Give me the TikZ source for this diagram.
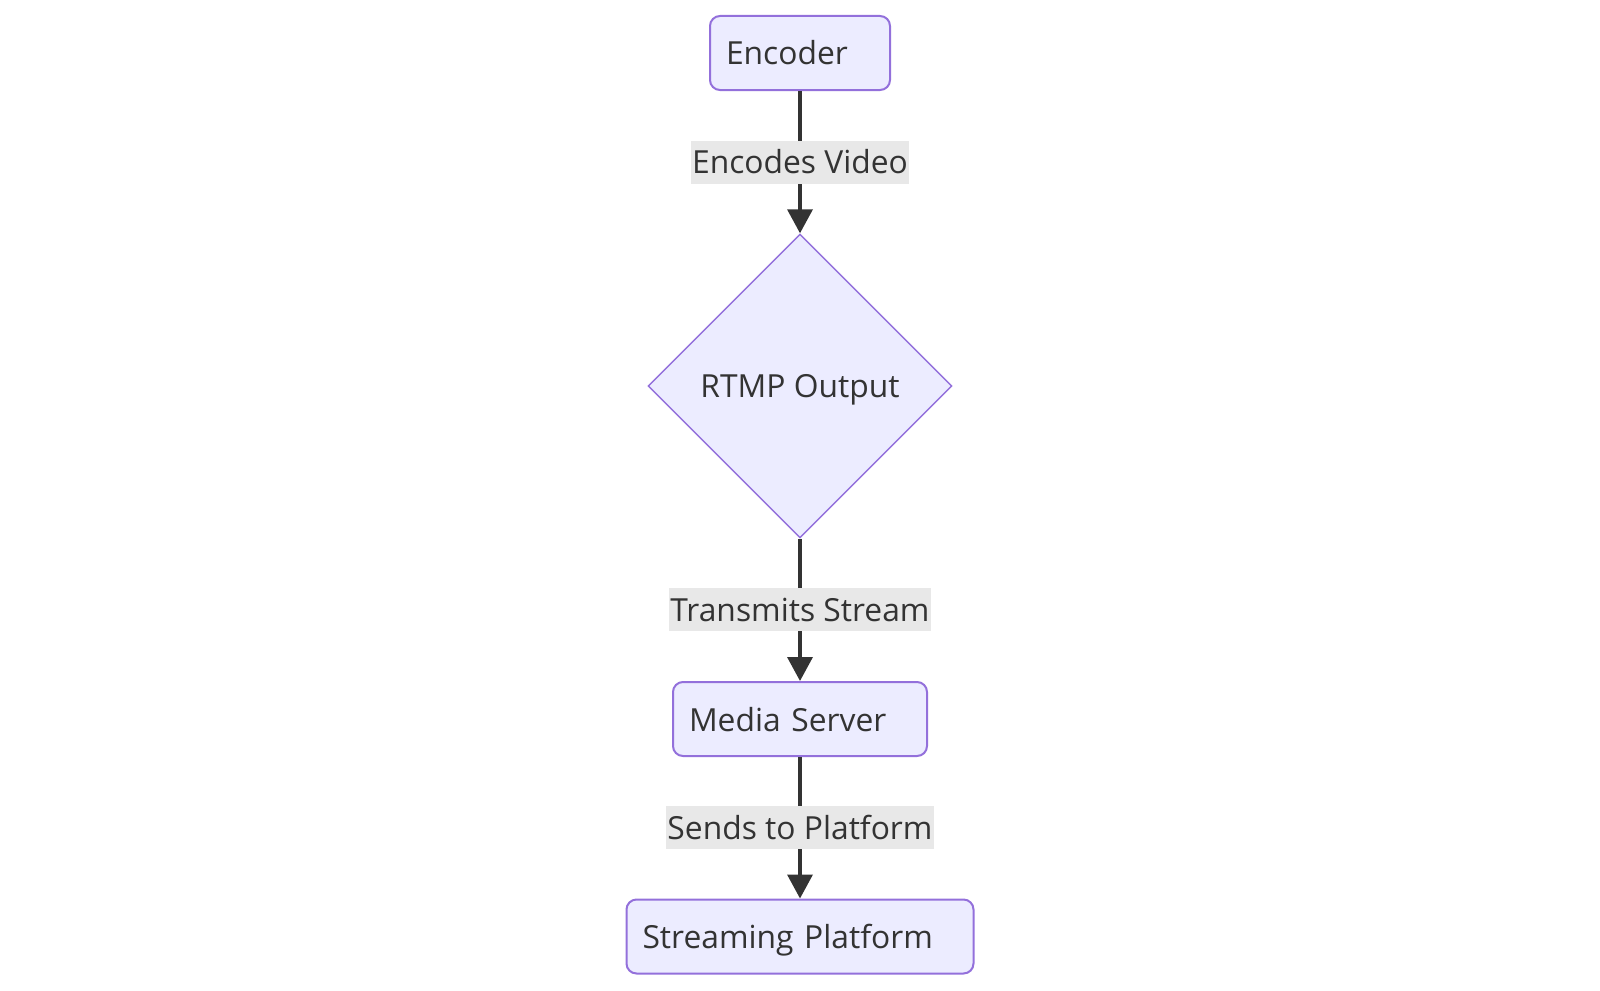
\documentclass[tikz,border=0pt]{standalone}
\usepackage{fontspec}
\setmainfont{Open Sans}
\usetikzlibrary{shapes.geometric,arrows.meta}
\definecolor{nodefill}{HTML}{ECECFF}
\definecolor{nodedraw}{HTML}{9370DB}
\definecolor{txt}{HTML}{333333}
\definecolor{lblbg}{HTML}{E8E8E8}
\tikzset{
  procbox/.style={draw=nodedraw, fill=nodefill, line width=2pt, rounded corners=10pt,
    inner xsep=16pt, inner ysep=0pt, text height=49pt, text depth=25pt, align=left,
    text=txt, font=\fontsize{31.8}{38}\selectfont},
  decision/.style={diamond, draw=nodedraw, fill=nodefill, line width=1.4pt, aspect=1,
    minimum width=304pt, minimum height=304pt, inner sep=0pt, text height=22pt, text depth=0pt,
    text=txt, font=\fontsize{31.8}{38}\selectfont},
  edge/.style={draw=txt, line width=3.6pt, -{Triangle[width=25pt,length=24pt]}},
  elabel/.style={fill=lblbg, inner xsep=1.5pt, inner ysep=0pt, text height=33pt, text depth=10pt,
    text=txt, font=\fontsize{31.8}{38}\selectfont}
}
\begin{document}
\begin{tikzpicture}[x=1pt,y=-1pt]
\useasboundingbox (0,0) rectangle (1600,990);
\node[procbox, text width=148pt] (enc) at (800,53) {Encoder};
\node[decision] (rtmp) at (800,386) {RTMP Output};
\node[procbox, text width=222pt] (ms) at (800,719) {Media Server};
\node[procbox, text width=315pt] (sp) at (800,936.5) {Streaming Platform};
\draw[edge] (enc) -- node[elabel] (l1) {Encodes Video} (rtmp);
\draw[edge] (rtmp) -- node[elabel] (l2) {Transmits Stream} (ms);
\draw[edge] (ms) -- node[elabel] (l3) {Sends to Platform} (sp);
\end{tikzpicture}
\end{document}
